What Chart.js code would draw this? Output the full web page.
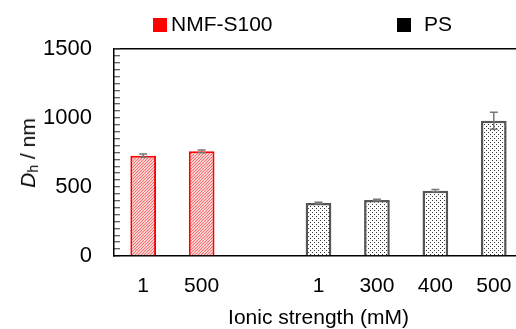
<!DOCTYPE html>
<html>
<head>
<meta charset="utf-8">
<script src="https://cdn.jsdelivr.net/npm/chart.js@4/dist/chart.umd.min.js"></script>
<style>
  body { margin: 0; overflow: hidden; background: #fff; font-family: "Liberation Sans", Arial, sans-serif; }
  #wrap { position: relative; width: 524px; height: 329px; }
  .leg { position: absolute; top: 13px; font-size: 21px; line-height: 22px; color: #000; white-space: nowrap; }
  .leg .box { display: inline-block; width: 14px; height: 14px; vertical-align: -1px; }
  #ytitle { position: absolute; left: 28px; top: 153px; transform: translate(-50%, -50%) rotate(-90deg);
            font-size: 21px; white-space: nowrap; color: #000; }
  #ytitle sub { font-size: 14px; vertical-align: -3px; line-height: 0; }
</style>
</head>
<body>
<div id="wrap">
  <canvas id="chart" width="524" height="329"></canvas>
  <div class="leg" style="left:153px"><span class="box" style="background:#ff0000"></span><span style="margin-left:4px">NMF-S100</span></div>
  <div class="leg" style="left:397px"><span class="box" style="background:#000"></span><span style="margin-left:13px">PS</span></div>
  <div id="ytitle"><i>D</i><sub>h</sub> / nm</div>
</div>
<script>
// Dh vs ionic strength
const categories = ['1', '500', '', '1', '300', '400', '500'];
const nmfValues = [727, 759, null, null, null, null, null];
const nmfErrors = [12, 10, null, null, null, null, null];
const psValues = [null, null, null, 384, 406, 473, 980];
const psErrors = [null, null, null, 5, 6, 8, 62];
const yMin = 0, yMax = 1500, yMinorStep = 50, yMajorStep = 500;

// red diagonal hatch on white
function hatchPattern() {
  const c = document.createElement('canvas');
  c.width = 6; c.height = 6;
  const g = c.getContext('2d');
  g.fillStyle = '#fff4f4';
  g.fillRect(0, 0, 6, 6);
  g.strokeStyle = '#f56a6a';
  g.lineWidth = 1.1;
  g.beginPath();
  for (let k = -6; k <= 12; k += 3) { g.moveTo(k, 6); g.lineTo(k + 6, 0); }
  g.stroke();
  return g.createPattern(c, 'repeat');
}

function dotPattern() {
  const c = document.createElement('canvas');
  c.width = 4; c.height = 4;
  const g = c.getContext('2d');
  g.fillStyle = '#fff';
  g.fillRect(0, 0, 4, 4);
  g.fillStyle = '#333';
  g.fillRect(0, 0, 1, 1);
  g.fillRect(2, 2, 1, 1);
  return g.createPattern(c, 'repeat');
}

// error bars from each dataset's errors array
const errorBars = {
  id: 'errorBars',
  afterDatasetsDraw(chart) {
    const ctx = chart.ctx;
    const y = chart.scales.y;
    chart.data.datasets.forEach((ds, i) => {
      const meta = chart.getDatasetMeta(i);
      meta.data.forEach((bar, j) => {
        const v = ds.data[j], e = ds.errors[j];
        if (v == null || e == null) return;
        const top = y.getPixelForValue(v + e);
        const bot = y.getPixelForValue(v - e);
        ctx.save();
        ctx.strokeStyle = '#777';
        ctx.lineWidth = 1.5;
        ctx.beginPath();
        ctx.moveTo(bar.x, top); ctx.lineTo(bar.x, bot);
        ctx.moveTo(bar.x - 4, top); ctx.lineTo(bar.x + 4, top);
        ctx.moveTo(bar.x - 4, bot); ctx.lineTo(bar.x + 4, bot);
        ctx.stroke();
        ctx.restore();
      });
    });
  }
};

const ctx = document.getElementById('chart').getContext('2d');
new Chart(ctx, {
  type: 'bar',
  data: {
    labels: categories,
    datasets: [{
      label: 'NMF-S100',
      data: nmfValues,
      errors: nmfErrors,
      backgroundColor: hatchPattern(),
      borderColor: '#ff0000',
      borderWidth: 2
    }, {
      label: 'PS',
      data: psValues,
      errors: psErrors,
      backgroundColor: dotPattern(),
      borderColor: '#555',
      borderWidth: 2.5
    }]
  },
  options: {
    responsive: false,
    animation: false,
    layout: { padding: { top: 49, right: 1, bottom: 0, left: 0 } },
    datasets: { bar: { grouped: false, categoryPercentage: 1, barPercentage: 0.44 } },
    plugins: { legend: { display: false }, tooltip: { enabled: false } },
    scales: {
      x: {
        grid: { display: false },
        border: { display: true, color: '#000', width: 1.5 },
        ticks: { color: '#000', padding: 10, font: { family: 'Liberation Sans', size: 21 } },
        title: {
          display: true,
          text: 'Ionic strength (mM)',
          color: '#000',
          font: { family: 'Liberation Sans', size: 21, lineHeight: 1 },
          padding: { top: 0, bottom: 0 }
        },
        afterFit(s) { s.height = 73; }
      },
      y: {
        min: yMin,
        max: yMax,
        border: { display: true, color: '#000', width: 1.5 },
        grid: {
          drawOnChartArea: true,
          color: c => (c.tick && c.tick.value === yMax ? '#000' : 'rgba(0,0,0,0)'),
          lineWidth: 1.5,
          tickColor: '#333',
          tickLength: -6,
          tickWidth: 1
        },
        ticks: {
          stepSize: yMinorStep,
          autoSkip: false,
          color: '#000',
          padding: 28,
          font: { family: 'Liberation Sans', size: 22 },
          callback: v => (v % yMajorStep === 0 ? v : '')
        },
        afterFit(s) { s.width = 114; }
      }
    }
  },
  plugins: [errorBars]
});
</script>
</body>
</html>
